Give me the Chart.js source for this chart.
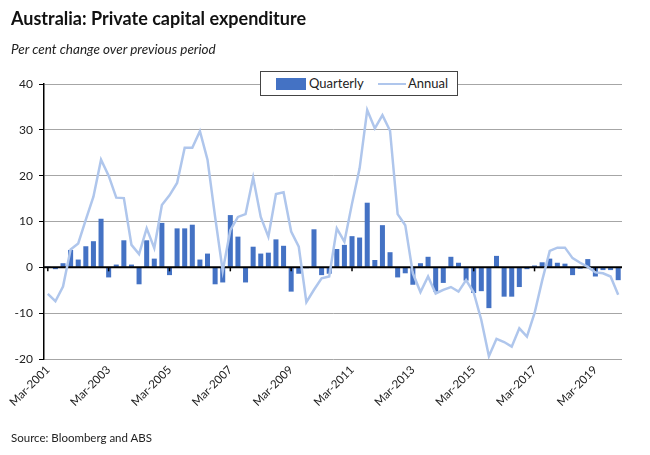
<!DOCTYPE html>
<html>
<head>
<meta charset="utf-8">
<title>Australia: Private capital expenditure</title>
<script src="https://cdn.jsdelivr.net/npm/chart.js@4/dist/chart.umd.min.js"></script>
<style>
  html, body { margin: 0; padding: 0; background: #fff; }
  #wrap { position: relative; width: 650px; height: 455px; font-family: Lato, "Open Sans", sans-serif; color: #111; }
  #chart { position: absolute; left: 0; top: 0; }
  .title { position: absolute; left: 11px; top: 7px; font-size: 18px; font-weight: bold; white-space: nowrap; }
  .subtitle { position: absolute; left: 11px; top: 41px; font-size: 13.5px; font-style: italic; white-space: nowrap; color: #222; }
  .source { position: absolute; left: 11px; top: 431px; font-size: 11.5px; white-space: nowrap; color: #222; }
  .legend { position: absolute; left: 260px; top: 71px; width: 196px; height: 23px; border: 1px solid #444; background: #fff; font-size: 13px; color: #222; }
  .legend .box { position: absolute; left: 15px; top: 6px; width: 30px; height: 12px; background: #4472C4; }
  .legend .ql { position: absolute; left: 48px; top: 3px; }
  .legend .line { position: absolute; left: 117px; top: 11px; width: 28px; height: 2px; background: #AFC6EC; }
  .legend .al { position: absolute; left: 147px; top: 3px; }
</style>
</head>
<body>
<div id="wrap">
  <canvas id="chart" width="650" height="455"></canvas>
  <div class="title">Australia: Private capital expenditure</div>
  <div class="subtitle">Per cent change over previous period</div>
  <div class="legend">
    <div class="box"></div><span class="ql">Quarterly</span>
    <div class="line"></div><span class="al">Annual</span>
  </div>
  <div class="source">Source: Bloomberg and ABS</div>
</div>
<script>
// Quarters Mar-2001 .. Dec-2019
const years = [2001, 2002, 2003, 2004, 2005, 2006, 2007, 2008, 2009, 2010,
               2011, 2012, 2013, 2014, 2015, 2016, 2017, 2018, 2019];
const months = ['Mar', 'Jun', 'Sep', 'Dec'];

// Labels shown on the x axis
const tickLabels = ['Mar-2001', 'Mar-2003', 'Mar-2005', 'Mar-2007', 'Mar-2009',
                    'Mar-2011', 'Mar-2013', 'Mar-2015', 'Mar-2017', 'Mar-2019'];

// Quarterly % change
const quarterly = [
   0.2, -0.4,  0.9,  3.8,   1.7,  4.6,  5.7, 10.6,  -2.2,  0.6,  5.9,  0.6,
  -3.7,  5.9,  1.9,  9.7,  -1.7,  8.5,  8.5,  9.3,   1.7,  3.0, -3.7, -3.3,
  11.4,  6.7, -3.3,  4.5,   3.0,  3.2,  6.1,  4.7,  -5.3, -1.4, -0.2,  8.3,
  -1.7, -1.4,  4.0,  4.9,   6.8,  6.5, 14.1,  1.6,   9.2,  3.3, -2.2, -1.3,
  -3.8,  0.9,  2.3, -5.3,  -3.4,  2.3,  1.0, -2.9,  -5.6, -5.2, -8.9,  2.5,
  -6.4, -6.4, -4.3, -0.4,   0.4,  1.1,  1.9,  1.0,   0.8, -1.7, -0.3,  1.8,
  -2.0, -0.6, -0.6, -2.8
];

// Annual % change
const annual = [
  -5.8, -7.4, -4.2,  3.9,   5.2, 10.4, 15.4, 23.5,  20.0, 15.2, 15.1,  4.9,
   2.9,  8.5,  4.2, 13.6,  15.7, 18.4, 26.1, 26.1,  29.7, 23.5, 11.0, -0.8,
   8.1, 11.0, 11.6, 19.6,  11.0,  6.7, 16.0, 16.4,   7.8,  4.5, -7.6, -4.9,
  -2.4, -2.0,  8.5,  5.6,  13.9, 21.6, 34.3, 30.3,  33.2, 29.8, 11.6,  9.2,
  -1.3, -5.4, -2.0, -5.7,  -4.9, -4.3, -5.3, -2.8,  -5.5, -11.5, -19.4, -15.6,
 -16.3, -17.3, -13.3, -15.1, -10.0, -2.9,  3.6,  4.3,   4.3,  2.0,  1.0,  0.1,
  -1.1, -1.3, -2.0, -6.0
];

const yTicks = [-20, -10, 0, 10, 20, 30, 40];

const labels = [];
years.forEach(y => months.forEach(m => labels.push(m + '-' + y)));

// Black zero axis with small tick marks, drawn over the bars
const zeroAxis = {
  id: 'zeroAxis',
  afterDatasetDraw(chart, args) {
    if (args.index !== 0) return;
    const { ctx, chartArea, scales } = chart;
    const y0 = scales.y.getPixelForValue(0);
    ctx.save();
    ctx.strokeStyle = '#000';
    ctx.lineWidth = 2;
    ctx.beginPath();
    ctx.moveTo(chartArea.left, y0);
    ctx.lineTo(chartArea.right, y0);
    ctx.stroke();
    ctx.lineWidth = 1.5;
    labels.forEach((lab, i) => {
      if (!tickLabels.includes(lab)) return;
      const x = scales.x.getPixelForValue(i);
      ctx.beginPath();
      ctx.moveTo(x, y0);
      ctx.lineTo(x, y0 + 4);
      ctx.stroke();
    });
    ctx.restore();
  }
};

new Chart(document.getElementById('chart'), {
  data: {
    labels: labels,
    datasets: [
      {
        type: 'bar',
        label: 'Quarterly',
        data: quarterly,
        backgroundColor: '#4472C4',
        borderWidth: 0,
        barPercentage: 0.66,
        categoryPercentage: 1,
        order: 2
      },
      {
        type: 'line',
        label: 'Annual',
        data: annual,
        borderColor: '#AFC6EC',
        borderWidth: 2.5,
        pointRadius: 0,
        tension: 0,
        order: 1
      }
    ]
  },
  options: {
    responsive: false,
    animation: false,
    layout: { padding: { left: 0, right: 28, top: 84, bottom: 0 } },
    plugins: {
      legend: { display: false },
      tooltip: { enabled: false }
    },
    scales: {
      x: {
        grid: { display: false, drawTicks: false },
        border: { display: false },
        ticks: {
          autoSkip: false,
          maxRotation: 45,
          minRotation: 45,
          padding: 4,
          color: '#222',
          font: { family: 'Lato', size: 11.5 },
          callback: function (v, i) {
            const lab = labels[i];
            return tickLabels.includes(lab) ? lab : '';
          }
        },
        afterFit: s => { s.height = 96; }
      },
      y: {
        min: yTicks[0],
        max: yTicks[yTicks.length - 1],
        afterBuildTicks: s => { s.ticks = yTicks.map(v => ({ value: v })); },
        grid: { color: '#A6A6A6', lineWidth: 1, tickColor: '#000', tickLength: 5 },
        border: { color: '#000', width: 1.5 },
        ticks: {
          padding: 6,
          color: '#222',
          font: { family: 'Lato', size: 12 }
        },
        afterFit: s => { s.width = 44; }
      }
    }
  },
  plugins: [zeroAxis]
});
</script>
</body>
</html>
